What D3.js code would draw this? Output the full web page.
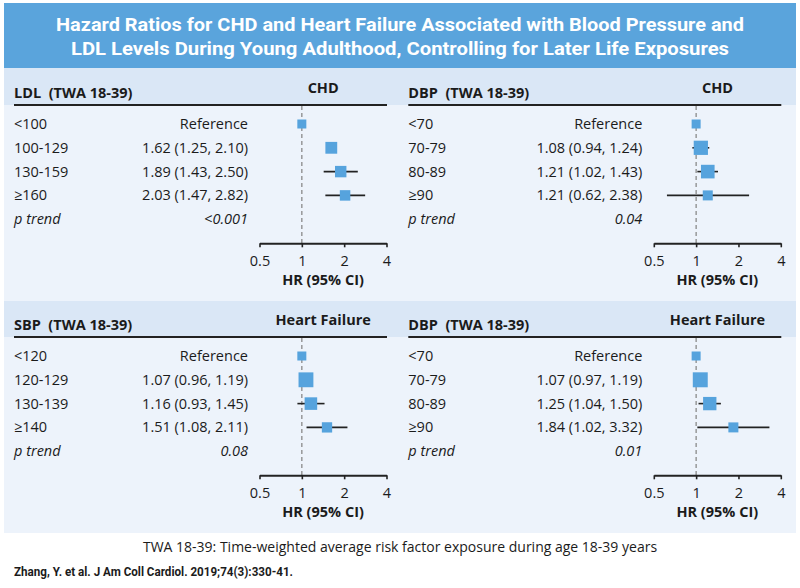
<!DOCTYPE html>
<html>
<head>
<meta charset="utf-8">
<script src="https://cdn.jsdelivr.net/npm/d3@7"></script>
<style>
    body { margin: 0; background: #fff; }
    svg { display: block; font-family: "Open Sans", "Noto Sans", sans-serif; }
</style>
</head>
<body>
<svg id="chart" width="800" height="588"></svg>
<script>
// ---- data ----
const titleLines = [
    "Hazard Ratios for CHD and Heart Failure Associated with Blood Pressure and",
    "LDL Levels During Young Adulthood, Controlling for Later Life Exposures"
];

const ldlGroups = ["<100", "100-129", "130-159", "≥160"];
const ldlHR = [1, 1.62, 1.89, 2.03];
const ldlLower = [null, 1.25, 1.43, 1.47];
const ldlUpper = [null, 2.10, 2.50, 2.82];
const ldlShowCI = [false, false, true, true]; // 100-129 whisker not drawn in the original
const ldlPTrend = "<0.001";

const dbpChdGroups = ["<70", "70-79", "80-89", "≥90"];
const dbpChdHR = [1, 1.08, 1.21, 1.21];
const dbpChdLower = [null, 0.94, 1.02, 0.62];
const dbpChdUpper = [null, 1.24, 1.43, 2.38];
const dbpChdShowCI = [false, true, true, true];
const dbpChdPTrend = "0.04";

const sbpHfGroups = ["<120", "120-129", "130-139", "≥140"];
const sbpHfHR = [1, 1.07, 1.16, 1.51];
const sbpHfLower = [null, 0.96, 0.93, 1.08];
const sbpHfUpper = [null, 1.19, 1.45, 2.11];
const sbpHfShowCI = [false, true, true, true];
const sbpHfPTrend = "0.08";

const dbpHfGroups = ["<70", "70-79", "80-89", "≥90"];
const dbpHfHR = [1, 1.07, 1.25, 1.84];
const dbpHfLower = [null, 0.97, 1.04, 1.02];
const dbpHfUpper = [null, 1.19, 1.50, 3.32];
const dbpHfShowCI = [false, true, true, true];
const dbpHfPTrend = "0.01";

const axisTicks = [0.5, 1, 2, 4];
const footnote = "TWA 18-39: Time-weighted average risk factor exposure during age 18-39 years";
const citation = "Zhang, Y. et al. J Am Coll Cardiol. 2019;74(3):330-41.";

// ---- layout ----
const svg = d3.select("#chart");
const blue = "#5aa4dc";
const markerBlue = "#56a3dd";
const ink = "#1b1b1b";
const fs = 14.5;

const panels = [
    { factor: "LDL", outcome: "CHD", groups: ldlGroups, hr: ldlHR, lo: ldlLower, hi: ldlUpper, ci: ldlShowCI, p: ldlPTrend, dx: 0, dy: 70 },
    { factor: "DBP", outcome: "CHD", groups: dbpChdGroups, hr: dbpChdHR, lo: dbpChdLower, hi: dbpChdUpper, ci: dbpChdShowCI, p: dbpChdPTrend, dx: 394.3, dy: 70 },
    { factor: "SBP", outcome: "Heart Failure", groups: sbpHfGroups, hr: sbpHfHR, lo: sbpHfLower, hi: sbpHfUpper, ci: sbpHfShowCI, p: sbpHfPTrend, dx: 0, dy: 302 },
    { factor: "DBP", outcome: "Heart Failure", groups: dbpHfGroups, hr: dbpHfHR, lo: dbpHfLower, hi: dbpHfUpper, ci: dbpHfShowCI, p: dbpHfPTrend, dx: 394.3, dy: 302 }
];

// title banner
svg.append("rect").attr("x", 4).attr("y", 3).attr("width", 792).attr("height", 65).attr("fill", blue);
svg.selectAll(".title")
    .data(titleLines)
    .enter()
    .append("text")
    .attr("class", "title")
    .attr("x", 400)
    .attr("y", (d, i) => 31 + i * 24)
    .attr("text-anchor", "middle")
    .attr("fill", "#fff")
    .attr("font-family", "Roboto, sans-serif")
    .attr("font-weight", 700)
    .attr("font-size", 19)
    .attr("textLength", (d, i) => i === 0 ? 688 : 658)
    .attr("lengthAdjust", "spacingAndGlyphs")
    .text(d => d);

// light panel area + header bands
svg.append("rect").attr("x", 4).attr("y", 68).attr("width", 792).attr("height", 465).attr("fill", "#edf3fb");
svg.append("rect").attr("x", 4).attr("y", 68).attr("width", 792).attr("height", 37).attr("fill", "#dae7f6");
svg.append("rect").attr("x", 4).attr("y", 301).attr("width", 792).attr("height", 36).attr("fill", "#dae7f6");

const sizeScale = d3.scaleLinear().domain([0.2, 0.7]).range([15, 10]).clamp(true);
const markSize = d => d.lo == null ? 9 : sizeScale(Math.log(d.hi / d.lo));
const rowStep = 23.8;

panels.forEach(p => {
    const g = svg.append("g").attr("transform", `translate(${p.dx},${p.dy})`);
    const x = d3.scaleLog().base(2).domain([0.5, 4]).range([259.5, 386.5]);
    const rowY = i => 59 + i * rowStep; // text baseline

    // header
    g.append("text").attr("x", 14).attr("y", 28)
        .attr("font-weight", 700).attr("font-size", fs).attr("fill", ink)
        .attr("xml:space", "preserve")
        .text(p.factor + "  (TWA 18-39)");
    g.append("text").attr("x", x(2) - 21).attr("y", 23)
        .attr("text-anchor", "middle")
        .attr("font-weight", 700).attr("font-size", fs).attr("fill", ink)
        .text(p.outcome);
    g.append("line").attr("x1", 14).attr("x2", 387).attr("y1", 35).attr("y2", 35)
        .attr("stroke", "#222").attr("stroke-width", 2);

    // reference line
    g.append("line").attr("x1", x(1)).attr("x2", x(1)).attr("y1", 36).attr("y2", 173)
        .attr("stroke", "#8a8a8a").attr("stroke-width", 1.3).attr("stroke-dasharray", "4,3");

    const rows = p.groups.map((name, i) => ({ name, hr: p.hr[i], lo: p.lo[i], hi: p.hi[i], ci: p.ci[i], i }));

    // labels
    g.selectAll(".grp").data(rows).enter().append("text")
        .attr("x", 14).attr("y", d => rowY(d.i))
        .attr("font-size", fs).attr("fill", ink)
        .text(d => d.name);
    g.selectAll(".val").data(rows).enter().append("text")
        .attr("x", 248).attr("y", d => rowY(d.i))
        .attr("text-anchor", "end")
        .attr("font-size", fs).attr("fill", ink)
        .text(d => d.lo == null ? "Reference" : `${d.hr.toFixed(2)} (${d.lo.toFixed(2)}, ${d.hi.toFixed(2)})`);

    g.append("text").attr("x", 14).attr("y", rowY(4))
        .attr("font-size", fs).attr("font-style", "italic").attr("fill", ink)
        .text("p trend");
    g.append("text").attr("x", 248).attr("y", rowY(4))
        .attr("text-anchor", "end")
        .attr("font-size", fs).attr("font-style", "italic").attr("fill", ink)
        .text(p.p);

    // whiskers
    g.selectAll(".ci").data(rows.filter(d => d.lo != null && d.ci)).enter().append("line")
        .attr("x1", d => x(d.lo)).attr("x2", d => x(d.hi))
        .attr("y1", d => rowY(d.i) - 5).attr("y2", d => rowY(d.i) - 5)
        .attr("stroke", "#222").attr("stroke-width", 1.6);

    // squares
    g.selectAll(".pt").data(rows).enter().append("rect")
        .attr("width", markSize)
        .attr("height", markSize)
        .attr("x", d => x(d.hr) - markSize(d) / 2)
        .attr("y", d => rowY(d.i) - 5 - markSize(d) / 2)
        .attr("fill", markerBlue);

    // axis
    const axis = g.append("g").attr("transform", "translate(0,173.3)")
        .call(d3.axisBottom(x).tickValues(axisTicks).tickFormat(d => String(d)).tickSize(4).tickSizeOuter(0));
    axis.select(".domain").attr("stroke", "#222").attr("stroke-width", 2);
    axis.selectAll(".tick line").attr("stroke", "#222").attr("stroke-width", 1.6);
    axis.selectAll(".tick text")
        .attr("y", 23).attr("dy", null)
        .attr("font-family", "Open Sans, sans-serif").attr("font-size", fs).attr("fill", ink);

    g.append("text").attr("x", 323).attr("y", 215)
        .attr("text-anchor", "middle")
        .attr("font-weight", 700).attr("font-size", fs).attr("fill", ink)
        .text("HR (95% CI)");
});

// footnotes
svg.append("text").attr("x", 400).attr("y", 552)
    .attr("text-anchor", "middle").attr("font-size", 14).attr("fill", ink)
    .text(footnote);
svg.append("text").attr("x", 14).attr("y", 576)
    .attr("font-family", "Roboto, sans-serif").attr("font-weight", 700).attr("font-size", 12).attr("fill", ink)
    .attr("textLength", 279).attr("lengthAdjust", "spacingAndGlyphs")
    .text(citation);
</script>
</body>
</html>
